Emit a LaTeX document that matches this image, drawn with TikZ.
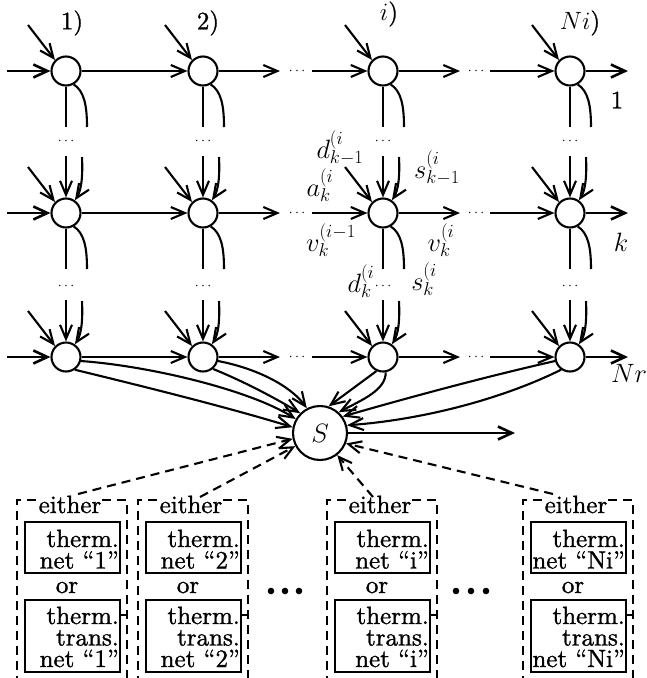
\RequirePackage{fix-cm}
\documentclass[tikz,border=0pt]{standalone}
\usepackage{fontspec}
\setmainfont{lmroman10-regular.otf}[FakeBold=1.2,ItalicFont=lmroman10-italic.otf]
\usetikzlibrary{arrows.meta}
\newcommand\lblfont{\fontsize{25}{21.5}\selectfont}
\newcommand\mathlblfont{\fontsize{26.5}{26.5}\selectfont}
\begin{document}
\begin{tikzpicture}[x=1pt,y=-1pt,
  ln/.style={line width=2.1pt},
  arr/.style={ln,-{Straight Barb[length=14pt,width=12pt]}},
  thk/.style={line width=2.6pt,-{Straight Barb[length=14pt,width=13pt]}},
  nd/.style={circle,draw,line width=2.1pt,minimum size=29pt,inner sep=0pt},
  dsh/.style={line width=2.1pt,dash pattern=on 9pt off 6pt},
  darr/.style={dsh,-{Straight Barb[length=13pt,width=12pt]}},
  sdots/.style={inner sep=0pt,font=\fontsize{14}{14}\selectfont},
  lbl/.style={inner sep=0pt,font=\lblfont},
  mlbl/.style={inner sep=0pt,font=\mathlblfont},
  bx/.style={inner sep=0pt,font=\lblfont,anchor=base east},
]
\useasboundingbox (0,0) rectangle (646,678);
\clip (0,0) rectangle (646,678);

% the grid of stations: rows 1, k, Nr and columns 1, 2, i, Ni
\foreach \rn/\ry in {1/71,k/213,r/357}{
  \foreach \cn/\cx in {1/66,2/203,i/383,N/570}{
    \node[nd] (c-\rn-\cn) at (\cx,\ry) {};
  }
}

% horizontal flows along each row
\foreach \rn/\ry in {1/71,k/213,r/357}{
  \coordinate (in\rn) at (7,\ry);
  \coordinate (ea\rn) at (280,\ry);
  \coordinate (eb\rn) at (312,\ry);
  \coordinate (ec\rn) at (460,\ry);
  \coordinate (ed\rn) at (490,\ry);
  \coordinate (out\rn) at (628,\ry);
  \node[sdots] (hd-a-\rn) at (297,\ry) {$\cdots$};
  \node[sdots] (hd-b-\rn) at (476,\ry) {$\cdots$};
  \draw[thk] (in\rn) -- (c-\rn-1);
  \draw[arr] (c-\rn-1) -- (c-\rn-2);
  \draw[arr] (c-\rn-2) -- (ea\rn);
  \draw[arr] (eb\rn) -- (c-\rn-i);
  \draw[arr] (c-\rn-i) -- (ec\rn);
  \draw[arr] (ed\rn) -- (c-\rn-N);
  \draw[thk] (c-\rn-N) -- (out\rn);
}

% vertical links, side inputs and dots in each column
\foreach \cn/\cx in {1/66,2/203,i/383,N/570}{
  \foreach \rn/\ry in {1/71,k/213,r/357}{
    \coordinate (dg-\rn-\cn) at (\cx-38,\ry-46);
    \draw[arr] (dg-\rn-\cn) -- (c-\rn-\cn.135);
  }
  \foreach \rn/\ry in {k/213,r/357}{
    \coordinate (va-\rn-\cn) at (\cx,\ry-57);
    \coordinate (vb-\rn-\cn) at (\cx+16,\ry-56);
    \draw[arr] (va-\rn-\cn) -- (c-\rn-\cn.north);
    \draw[arr] (vb-\rn-\cn) .. controls (\cx+17,\ry-35) and (\cx+15,\ry-22) .. (c-\rn-\cn.55);
  }
  \foreach \rn/\ry in {1/71,k/213}{
    \coordinate (vc-\rn-\cn) at (\cx,\ry+56);
    \coordinate (vd-\rn-\cn) at (\cx+21,\ry+56);
    \draw[ln] (c-\rn-\cn.south) -- (vc-\rn-\cn);
    \draw[ln] (c-\rn-\cn.-60) .. controls (\cx+18,\ry+20) and (\cx+21,\ry+34) .. (vd-\rn-\cn);
  }
  \node[sdots] (vdots-a-\cn) at (\cx,141) {$\cdots$};
  \node[sdots] (vdots-b-\cn) at (\cx,286) {$\cdots$};
}

% column and row headings
\node[lbl] (t1) at (72,23) {1)};
\node[lbl] (t2) at (208,23) {2)};
\node[lbl] (ti) at (389,14) {$i$)};
\node[lbl] (tN) at (580,23) {$Ni$)};
\node[lbl] (r1) at (617,100) {1};
\node[mlbl] (rk) at (621,242) {$k$};
\node[mlbl,anchor=west] (rN) at (611,373) {$Nr$};

% variables around station (k,i)
\node[mlbl] (l-d1) at (340,148) {$d^{(i}_{k-1}$};
\node[mlbl] (l-s1) at (437,168) {$s^{(i}_{k-1}$};
\node[mlbl] (l-a) at (320,185) {$a^{(i}_k$};
\node[mlbl] (l-v1) at (331,240) {$v^{(i-1}_k$};
\node[mlbl] (l-v2) at (441,240) {$v^{(i}_k$};
\node[mlbl] (l-d2) at (361,281) {$d^{(i}_k$};
\node[mlbl] (l-s2) at (424,279) {$s^{(i}_k$};

% collector S
\node[nd,minimum size=54pt,font=\mathlblfont] (S) at (320,433) {$S$};
\draw[arr] (c-r-1.-15) .. controls (150,366) and (250,390) .. (S.150);
\draw[arr] (c-r-1.-55) .. controls (150,388) and (230,408) .. (S.168);
\draw[arr] (c-r-2.-15) .. controls (255,368) and (290,385) .. (S.118);
\draw[arr] (c-r-2.-50) .. controls (245,382) and (275,398) .. (S.135);
\draw[arr] (c-r-i.-115) -- (S.72);
\draw[arr] (c-r-i.-80) .. controls (386,390) and (362,400) .. (S.48);
\draw[arr] (c-r-N.-165) .. controls (480,378) and (400,400) .. (S.36);
\draw[arr] (c-r-N.-125) .. controls (500,400) and (420,420) .. (S.16);
\coordinate (sout) at (515,433);
\draw[thk] (S.east) -- (sout);

% thermal network blocks
\foreach \x/\lab/\nm in {17/1/a,138/2/b,327/i/c,523/Ni/d}{
  \draw[dsh] (\x,700) -- (\x,500) -- (\x+110,500) -- (\x+110,700);
  \node[lbl,fill=white,inner sep=1pt,anchor=base] (either-\nm) at (\x+53,513) {either};
  \draw[ln] (\x+8,522) rectangle (\x+103,573);
  \draw[ln] (\x+8,600) rectangle (\x+103,672);
  \draw[ln] (\x+103,615) -- (\x+110,615);
  \node[bx] (ta-\nm) at (\x+102,547) {therm.};
  \node[bx] (na-\nm) at (\x+102,568.5) {net ``\lab''};
  \node[lbl,anchor=base] (or-\nm) at (\x+50,593) {or};
  \node[bx] (tb-\nm) at (\x+102,624) {therm.};
  \node[bx] (tr-\nm) at (\x+102,645.5) {trans.};
  \node[bx] (nb-\nm) at (\x+102,667) {net ``\lab''};
}
\foreach \dx in {271,285,299,456,471,486}{
  \fill (\dx,591) circle (3.3pt);
}

% dashed links from the blocks to S
\coordinate (ds-a) at (78,494);
\coordinate (ds-b) at (200,497);
\coordinate (ds-c) at (373,497);
\coordinate (ds-d) at (553,494);
\draw[darr] (ds-a) -- (S.192);
\draw[darr] (ds-b) -- (S.208);
\draw[darr] (ds-c) -- (S.-52);
\draw[darr] (ds-d) -- (S.-22);
\end{tikzpicture}
\end{document}
